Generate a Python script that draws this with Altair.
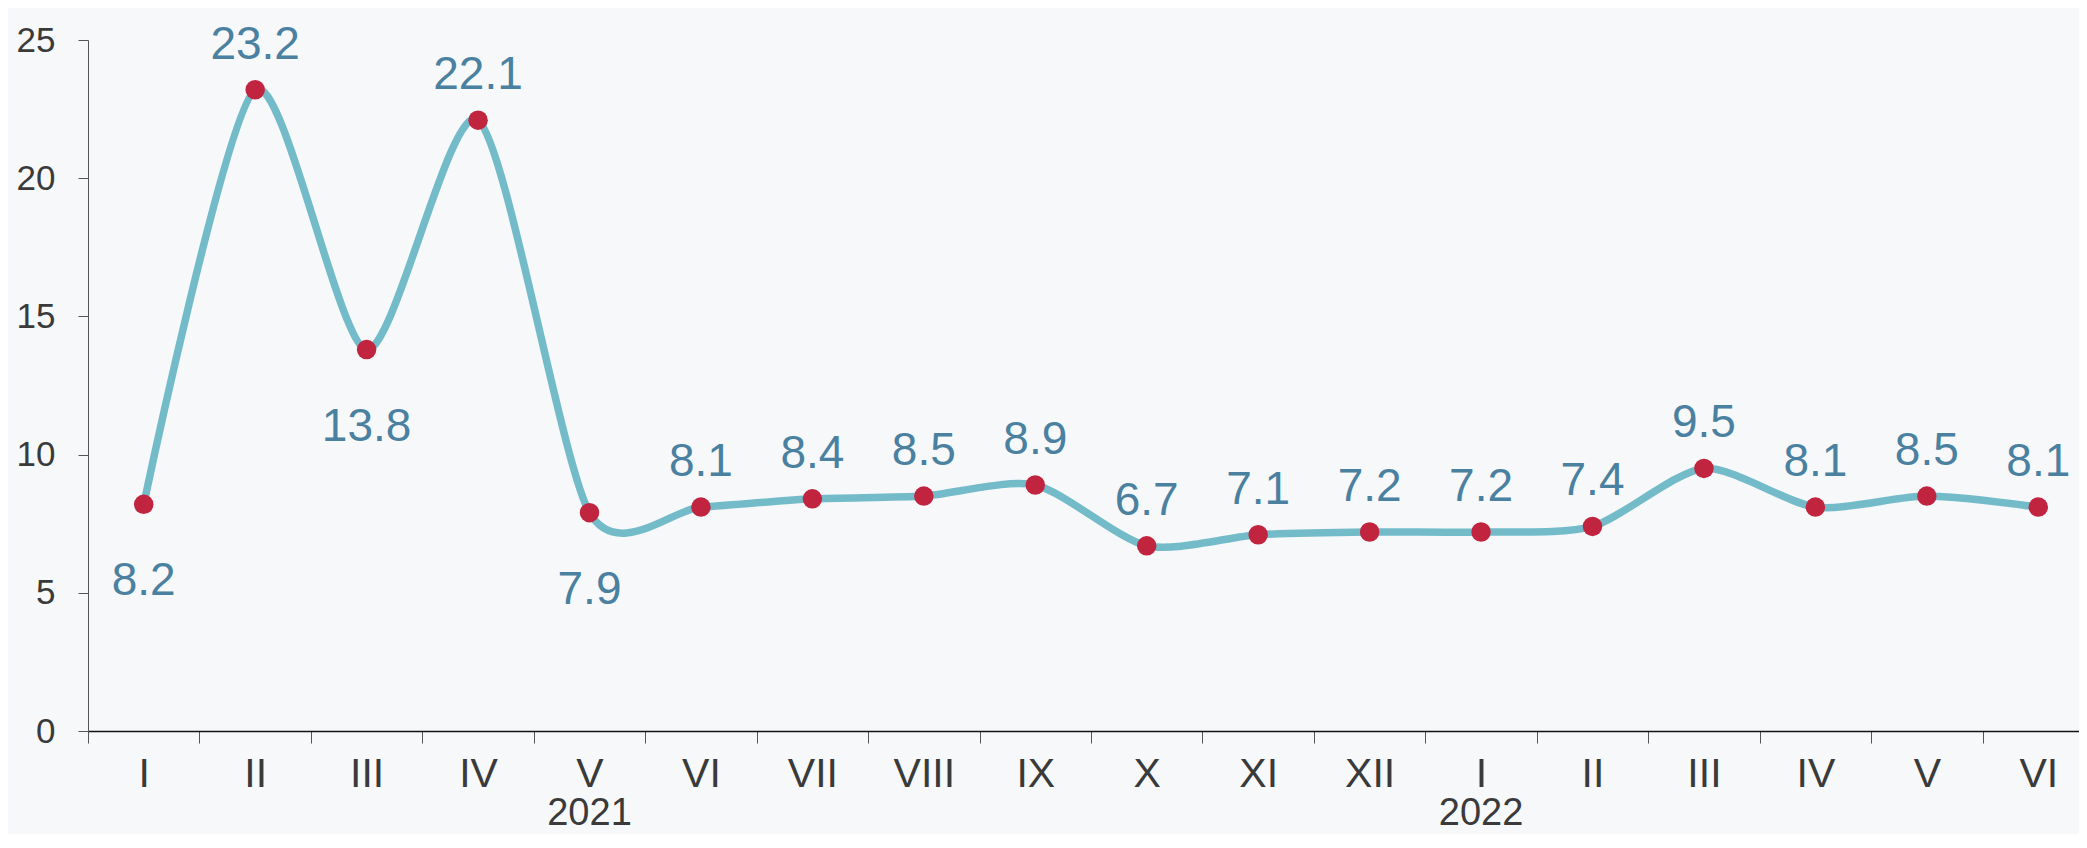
import altair as alt
import pandas as pd

# ---- data ----
MONTHS = ["I", "II", "III", "IV", "V", "VI", "VII", "VIII", "IX", "X", "XI", "XII",
          "I", "II", "III", "IV", "V", "VI"]
VALUES = [8.2, 23.2, 13.8, 22.1, 7.9, 8.1, 8.4, 8.5, 8.9, 6.7, 7.1, 7.2,
          7.2, 7.4, 9.5, 8.1, 8.5, 8.1]
LABEL_SIDE = ["below", "above", "below", "above", "below", "above", "above", "above", "above",
              "above", "above", "above", "above", "above", "above", "above", "above", "above"]
YEARS = ["2021", "2022"]
YEAR_AT = [4, 12]          # index of the month under which the year is written
Y_TICKS = [0, 5, 10, 15, 20, 25]

FONT = "Liberation Sans"
LINE_COLOR = "#74BBC9"
POINT_COLOR = "#C1243F"
LABEL_COLOR = "#4A80A0"
AXIS_TEXT = "#3A3A3A"

df = pd.DataFrame({"idx": list(range(len(VALUES))), "value": VALUES, "side": LABEL_SIDE})
years_df = pd.DataFrame({"idx": YEAR_AT, "year": YEARS})

label_expr = "[" + ",".join("'%s'" % m for m in MONTHS) + "][datum.value]"

# visible plot area (the x range runs a little past the right edge, as in the reference)
W, H = 1991, 691
X_RANGE_END = 2006

x_enc = alt.X(
    "idx:O",
    bandPosition=0.5,
    scale=alt.Scale(type="band", paddingInner=0, paddingOuter=0,
                    domain=list(range(len(VALUES))), range=[0, X_RANGE_END]),
    axis=alt.Axis(
        title=None, labelExpr=label_expr, labelAngle=0, labelFontSize=41, labelFont=FONT,
        labelColor=AXIS_TEXT, tickBand="extent", tickSize=12, tickColor="#555555",
        domainColor="#111111", domainWidth=1.5, labelPadding=11, grid=False,
    ),
)
y_enc = alt.Y(
    "value:Q",
    scale=alt.Scale(domain=[0, 25], nice=False, zero=True),
    axis=alt.Axis(
        title=None, values=Y_TICKS, labelFontSize=35, labelFont=FONT, labelColor=AXIS_TEXT,
        tickSize=10, tickColor="#555555", domainColor="#555555", labelPadding=23, grid=False,
    ),
)

base = alt.Chart(df)

line = base.mark_line(interpolate="cardinal", tension=0.25, color=LINE_COLOR,
                      strokeWidth=7.5).encode(x=x_enc, y=y_enc)
points = base.mark_circle(size=380, color=POINT_COLOR, opacity=1).encode(x=x_enc, y=y_enc)

above = base.transform_filter("datum.side == 'above'").mark_text(
    font=FONT, fontSize=46, color=LABEL_COLOR, dy=-45, baseline="middle", align="center"
).encode(x=x_enc, y=y_enc, text=alt.Text("value:Q", format=".1f"))

below = base.transform_filter("datum.side == 'below'").mark_text(
    font=FONT, fontSize=46, color=LABEL_COLOR, dy=77, baseline="middle", align="center"
).encode(x=x_enc, y=y_enc, text=alt.Text("value:Q", format=".1f"))

years = alt.Chart(years_df).mark_text(
    font=FONT, fontSize=38, color=AXIS_TEXT, baseline="alphabetic", align="center"
).encode(x=x_enc, y=alt.value(H + 94), text="year:N")

chart = (
    alt.layer(line, points, above, below, years)
    .properties(
        width=W,
        height=H,
        autosize=alt.AutoSizeParams(type="none"),
        padding={"left": 80, "top": 32, "right": 0, "bottom": 103},
        background="#F6F8FA",
    )
    .configure_view(stroke=None)
)

chart.save("out.html", embed_options={"renderer": "svg", "actions": False})
